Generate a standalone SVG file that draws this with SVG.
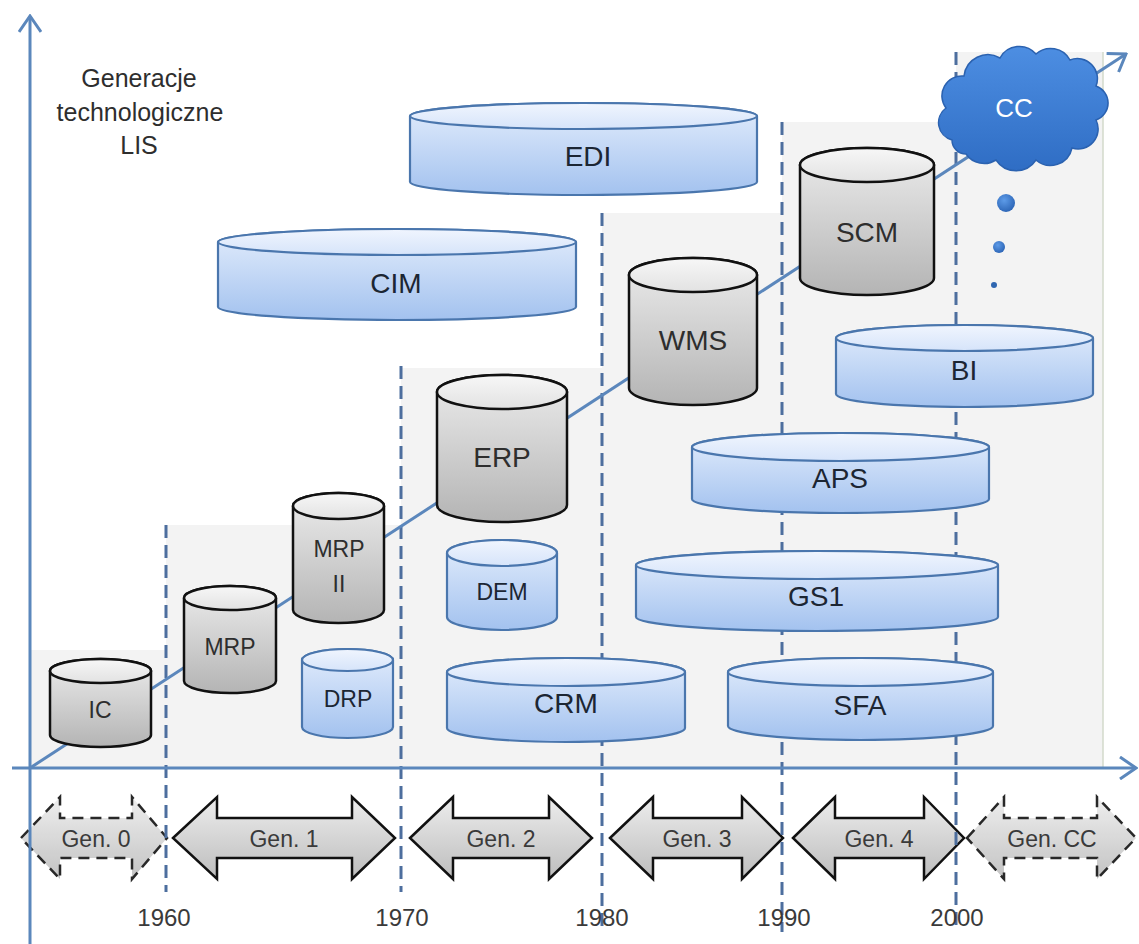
<svg xmlns="http://www.w3.org/2000/svg" width="1139" height="944" viewBox="0 0 1139 944">
<defs>
<linearGradient id="gBody" x1="0" y1="0" x2="0" y2="1"><stop offset="0" stop-color="#ececec"/><stop offset="1" stop-color="#b4b4b4"/></linearGradient>
<linearGradient id="gTop" x1="0" y1="0" x2="0" y2="1"><stop offset="0" stop-color="#f7f7f7"/><stop offset="1" stop-color="#e2e2e2"/></linearGradient>
<linearGradient id="bBody" x1="0" y1="0" x2="0" y2="1"><stop offset="0" stop-color="#e3edfc"/><stop offset="1" stop-color="#a3c2ef"/></linearGradient>
<linearGradient id="bTop" x1="0" y1="0" x2="0" y2="1"><stop offset="0" stop-color="#f0f5fe"/><stop offset="1" stop-color="#d6e4fa"/></linearGradient>
<linearGradient id="genFill" x1="0" y1="0" x2="0" y2="1"><stop offset="0" stop-color="#ededed"/><stop offset="1" stop-color="#bdbdbd"/></linearGradient>
<linearGradient id="cloudFill" x1="0" y1="0" x2="0" y2="1"><stop offset="0" stop-color="#4d8ee2"/><stop offset="1" stop-color="#2f6dc4"/></linearGradient>
<radialGradient id="dotFill" cx="0.4" cy="0.35" r="0.7"><stop offset="0" stop-color="#5d9be8"/><stop offset="1" stop-color="#2a63b4"/></radialGradient>
<marker id="chev" viewBox="0 0 20 24" refX="18" refY="12" markerWidth="20" markerHeight="24" markerUnits="userSpaceOnUse" orient="auto"><path d="M2,1 L18,12 L2,23" fill="none" stroke="#5b87bc" stroke-width="3"/></marker>
</defs>
<style>
.g-body{fill:url(#gBody);stroke:#111;stroke-width:2.5}
.g-top{fill:url(#gTop);stroke:#111;stroke-width:2.5}
.b-body{fill:url(#bBody);stroke:#4a76ad;stroke-width:2.2}
.b-top{fill:url(#bTop);stroke:#4a76ad;stroke-width:2.2}
.lbl{font-family:"Liberation Sans",Arial,sans-serif;text-anchor:middle}
.gl{fill:#2e2e2e}
.bl{fill:#1c2633}
.big{font-size:28px}
.small{font-size:23px}
.gen{fill:url(#genFill);stroke:#111;stroke-width:2.5;stroke-linejoin:miter}
.gen-d{fill:url(#genFill);stroke:#111;stroke-width:2.5;stroke-dasharray:11 7;opacity:0.9}
.genlbl{font-family:"Liberation Sans",Arial,sans-serif;font-size:23px;fill:#3a3a3a;text-anchor:middle}
.year{font-family:"Liberation Sans",Arial,sans-serif;font-size:24px;fill:#3a3a3a;text-anchor:middle}
.dash{stroke:#4d6e9e;stroke-width:3;stroke-dasharray:13 7;fill:none}
.axis{stroke:#5b87bc;stroke-width:3;fill:none}
</style>
<rect width="1139" height="944" fill="#ffffff"/>
<g id="background">
<polygon points="30,768 30,650 166,650 166,525 401,525 401,368 602,368 602,213 782,213 782,122 956,122 956,52 1103,52 1103,768" fill="#f3f3f3"/>
<line x1="1103" y1="52" x2="1103" y2="768" stroke="#d3dacb" stroke-width="1.5"/>
</g>
<g id="generations">
<g id="gen0"><path class="gen-d" d="M21,838 L60,797 L60,818 L132,818 L132,797 L167,838 L132,879 L132,858 L60,858 L60,879 Z"/><text class="genlbl" x="96" y="847">Gen. 0</text></g>
<g id="gen1"><path class="gen" d="M173,838 L217,797 L217,818 L352,818 L352,797 L395,838 L352,879 L352,858 L217,858 L217,879 Z"/><text class="genlbl" x="284" y="847">Gen. 1</text></g>
<g id="gen2"><path class="gen" d="M410,838 L453,797 L453,818 L549,818 L549,797 L592,838 L549,879 L549,858 L453,858 L453,879 Z"/><text class="genlbl" x="501" y="847">Gen. 2</text></g>
<g id="gen3"><path class="gen" d="M610,838 L653,797 L653,818 L742,818 L742,797 L783,838 L742,879 L742,858 L653,858 L653,879 Z"/><text class="genlbl" x="697" y="847">Gen. 3</text></g>
<g id="gen4"><path class="gen" d="M793,838 L835,797 L835,818 L924,818 L924,797 L964,838 L924,879 L924,858 L835,858 L835,879 Z"/><text class="genlbl" x="879" y="847">Gen. 4</text></g>
<g id="genCC"><path class="gen-d" d="M967,838 L1004,797 L1004,818 L1097,818 L1097,797 L1136,838 L1097,879 L1097,858 L1004,858 L1004,879 Z"/><text class="genlbl" x="1052" y="847">Gen. CC</text></g>
</g>
<g id="connectors">
<line class="dash" x1="166" y1="525" x2="166" y2="892"/>
<line class="dash" x1="401" y1="366" x2="401" y2="892"/>
<line class="dash" x1="602" y1="213" x2="602" y2="932"/>
<line class="dash" x1="782" y1="122" x2="782" y2="932"/>
<line class="dash" x1="956" y1="52" x2="956" y2="932"/>
<line class="axis" x1="30" y1="944" x2="30" y2="16" marker-end="url(#chev)"/>
<line class="axis" x1="12" y1="768" x2="1136" y2="768" marker-end="url(#chev)"/>
<line class="axis" x1="30" y1="768" x2="1126" y2="54" marker-end="url(#chev)"/>
</g>
<g id="years">
<text class="year" x="164" y="926">1960</text>
<text class="year" x="402" y="926">1970</text>
<text class="year" x="602" y="926">1980</text>
<text class="year" x="784" y="926">1990</text>
<text class="year" x="957" y="926">2000</text>
</g>
<g id="title"><text class="lbl gl" font-size="25" fill="#3a3a3a"><tspan x="139" y="87">Generacje</tspan><tspan x="140" y="121">technologiczne</tspan><tspan x="139" y="154">LIS</tspan></text></g>
<g id="node-IC"><path class="g-body" d="M50,671 V735 A50.5,12 0 0 0 151,735 V671 A50.5,12 0 0 0 50,671 Z"/><ellipse class="g-top" cx="100.5" cy="671" rx="50.5" ry="12"/><text class="lbl gl small" x="100" y="718">IC</text></g>
<g id="node-MRP"><path class="g-body" d="M184,598 V681 A46,12 0 0 0 276,681 V598 A46,12 0 0 0 184,598 Z"/><ellipse class="g-top" cx="230" cy="598" rx="46" ry="12"/><text class="lbl gl small" x="230" y="655">MRP</text></g>
<g id="node-MRPII"><path class="g-body" d="M293,506 V610 A45.5,13 0 0 0 384,610 V506 A45.5,13 0 0 0 293,506 Z"/><ellipse class="g-top" cx="338.5" cy="506" rx="45.5" ry="13"/><text class="lbl gl small" x="339" y="557">MRP</text><text class="lbl gl small" x="339" y="592">II</text></g>
<g id="node-DRP"><path class="b-body" d="M302,660 V727 A45.5,11 0 0 0 393,727 V660 A45.5,11 0 0 0 302,660 Z"/><ellipse class="b-top" cx="347.5" cy="660" rx="45.5" ry="11"/><text class="lbl bl small" x="348" y="707">DRP</text></g>
<g id="node-ERP"><path class="g-body" d="M437,392 V505 A65,17 0 0 0 567,505 V392 A65,17 0 0 0 437,392 Z"/><ellipse class="g-top" cx="502" cy="392" rx="65" ry="17"/><text class="lbl gl big" x="502" y="467">ERP</text></g>
<g id="node-DEM"><path class="b-body" d="M447,553 V617 A55,13 0 0 0 557,617 V553 A55,13 0 0 0 447,553 Z"/><ellipse class="b-top" cx="502" cy="553" rx="55" ry="13"/><text class="lbl bl small" x="502" y="600">DEM</text></g>
<g id="node-CRM"><path class="b-body" d="M447,672 V728 A119,14 0 0 0 685,728 V672 A119,14 0 0 0 447,672 Z"/><ellipse class="b-top" cx="566" cy="672" rx="119" ry="14"/><text class="lbl bl big" x="566" y="713">CRM</text></g>
<g id="node-EDI"><path class="b-body" d="M410,116 V182 A173.5,13 0 0 0 757,182 V116 A173.5,13 0 0 0 410,116 Z"/><ellipse class="b-top" cx="583.5" cy="116" rx="173.5" ry="13"/><text class="lbl bl big" x="588" y="166">EDI</text></g>
<g id="node-CIM"><path class="b-body" d="M218,242 V307 A179,13 0 0 0 576,307 V242 A179,13 0 0 0 218,242 Z"/><ellipse class="b-top" cx="397" cy="242" rx="179" ry="13"/><text class="lbl bl big" x="396" y="293">CIM</text></g>
<g id="node-WMS"><path class="g-body" d="M629,275 V388 A64,17 0 0 0 757,388 V275 A64,17 0 0 0 629,275 Z"/><ellipse class="g-top" cx="693" cy="275" rx="64" ry="17"/><text class="lbl gl big" x="693" y="350">WMS</text></g>
<g id="node-SCM"><path class="g-body" d="M800,165 V278 A67,17 0 0 0 934,278 V165 A67,17 0 0 0 800,165 Z"/><ellipse class="g-top" cx="867" cy="165" rx="67" ry="17"/><text class="lbl gl big" x="867" y="242">SCM</text></g>
<g id="node-BI"><path class="b-body" d="M836,338 V394 A128.5,13 0 0 0 1093,394 V338 A128.5,13 0 0 0 836,338 Z"/><ellipse class="b-top" cx="964.5" cy="338" rx="128.5" ry="13"/><text class="lbl bl big" x="964" y="380">BI</text></g>
<g id="node-APS"><path class="b-body" d="M692,447 V499 A148.5,14 0 0 0 989,499 V447 A148.5,14 0 0 0 692,447 Z"/><ellipse class="b-top" cx="840.5" cy="447" rx="148.5" ry="14"/><text class="lbl bl big" x="840" y="488">APS</text></g>
<g id="node-GS1"><path class="b-body" d="M636,565 V617 A181,14 0 0 0 998,617 V565 A181,14 0 0 0 636,565 Z"/><ellipse class="b-top" cx="817" cy="565" rx="181" ry="14"/><text class="lbl bl big" x="816" y="606">GS1</text></g>
<g id="node-SFA"><path class="b-body" d="M728,672 V726 A132.5,14 0 0 0 993,726 V672 A132.5,14 0 0 0 728,672 Z"/><ellipse class="b-top" cx="860.5" cy="672" rx="132.5" ry="14"/><text class="lbl bl big" x="860" y="715">SFA</text></g>
<g id="node-CC">
<path d="M952,140 a18,18 0 0 1 -6,-32 a20,20 0 0 1 18,-32 a24,24 0 0 1 36,-18 a22,22 0 0 1 36,-4 a22,22 0 0 1 34,6 a20,20 0 0 1 26,26 a18,18 0 0 1 0,34 a20,20 0 0 1 -24,28 a22,22 0 0 1 -36,12 a24,24 0 0 1 -40,0 a22,22 0 0 1 -30,-6 a14,14 0 0 1 -14,-14 Z" fill="url(#cloudFill)" stroke="#2b62b0" stroke-width="1.5"/>
<text class="lbl" x="1014" y="117" font-size="26" fill="#ffffff">CC</text>
</g>
<g id="dots">
<circle cx="1006" cy="203" r="9" fill="url(#dotFill)"/>
<circle cx="999" cy="247" r="6" fill="url(#dotFill)"/>
<circle cx="994" cy="285" r="3" fill="#2f66b0"/>
</g>
</svg>
